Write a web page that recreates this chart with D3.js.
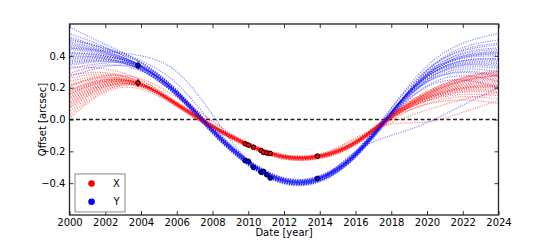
<!DOCTYPE html>
<html>
<head>
<meta charset="utf-8">
<script src="https://cdnjs.cloudflare.com/ajax/libs/d3/7.8.5/d3.min.js"></script>
<style>
  body { margin: 0; background: #fff; }
  svg text { font-family: "DejaVu Sans", sans-serif; font-size: 10px; fill: #000; }
</style>
</head>
<body>
<div id="chartDiv"></div>
<script>
// GRID OF YEARS THE ORBIT FITS ARE GIVEN ON
var fitYears = [2000, 2002, 2004, 2006, 2008, 2010, 2012, 2014, 2016, 2018, 2020, 2022, 2024];

// BEST FIT (CENTRE OF THE BUNDLE) FOR X AND Y
var xMean = [0.16, 0.24, 0.22, 0.095, -0.045, -0.16, -0.235, -0.232, -0.145, 0.02, 0.15, 0.225, 0.25];
var yMean = [0.42, 0.40, 0.33, 0.165, -0.07, -0.27, -0.385, -0.372, -0.22, 0.04, 0.27, 0.37, 0.38];

// EACH ROW = ONE SAMPLED ORBIT, GIVEN AS OFFSET FROM THE BEST FIT
var xFitOffsets = [
  [0.17, 0.077, 0.028, 0.013, 0.008, 0.008, 0.008, 0.008, 0.009, 0.015, 0.027, 0.041, 0.06],
  [0.12, 0.054, 0.009, -0.001, -0.005, -0.005, -0.005, -0.005, -0.004, 0.0, 0.013, 0.027, 0.04],
  [0.08, 0.036, 0.02, 0.012, 0.01, 0.01, 0.01, 0.01, 0.01, 0.012, 0.013, 0.014, 0.02],
  [0.05, 0.023, 0.006, 0.002, 0, 0, 0, 0, 0, 0.001, 0.004, 0.007, 0.01],
  [0.03, 0.014, -0.004, -0.007, -0.008, -0.008, -0.008, -0.008, -0.008, -0.008, -0.004, 0.0, 0.0],
  [0.01, 0.005, 0.006, 0.005, 0.005, 0.005, 0.005, 0.005, 0.005, 0.004, -0.001, -0.007, -0.01],
  [-0.01, -0.005, -0.011, -0.01, -0.01, -0.01, -0.01, -0.01, -0.01, -0.012, -0.013, -0.014, -0.02],
  [-0.03, -0.014, 0.008, 0.011, 0.012, 0.012, 0.012, 0.012, 0.011, 0.008, -0.005, -0.02, -0.03],
  [-0.05, -0.023, -0.003, 0.002, 0.003, 0.003, 0.003, 0.003, 0.002, -0.002, -0.014, -0.027, -0.04],
  [-0.07, -0.032, -0.014, -0.008, -0.006, -0.006, -0.006, -0.006, -0.007, -0.012, -0.022, -0.034, -0.05],
  [-0.09, -0.041, -0.004, 0.004, 0.007, 0.007, 0.007, 0.007, 0.006, 0.0, -0.019, -0.041, -0.06],
  [-0.11, -0.05, -0.017, -0.007, -0.004, -0.004, -0.004, -0.004, -0.006, -0.014, -0.032, -0.054, -0.08],
  [-0.13, -0.059, -0.007, 0.005, 0.009, 0.009, 0.009, 0.009, 0.007, -0.003, -0.034, -0.068, -0.1],
  [-0.15, -0.068, -0.029, -0.016, -0.011, -0.011, -0.011, -0.011, -0.013, -0.025, -0.051, -0.082, -0.12],
  [0, 0, 0, 0, 0, 0, 0, 0, 0.001, 0.004, 0.011, 0.02, 0.03],
  [-0.04, -0.018, -0.001, 0.003, 0.004, 0.004, 0.004, 0.004, 0.001, -0.014, -0.055, -0.102, -0.15],
  [0.06, 0.027, 0.005, 0.0, -0.002, -0.002, -0.002, -0.002, -0.003, -0.01, -0.028, -0.048, -0.07],
  [-0.02, -0.009, 0.004, 0.005, 0.006, 0.006, 0.006, 0.006, 0.007, 0.012, 0.022, 0.034, 0.05],
  [0.02, 0.01, 0.0, 0.0, 0.0, 0.0, 0.005, 0.012, 0.03, -0.05, -0.165, -0.18, -0.13],
  [0.05, 0.035, 0.035, 0.045, 0.035, 0.006, 0, 0, 0, 0, 0.01, 0.02, 0.03],
  [0.0, 0.0, 0.0, 0.0, 0.0, 0.0, 0.0, 0.005, 0.02, -0.04, -0.09, -0.1, -0.08],
  [0.1, 0.045, 0.012, 0.004, 0.002, 0.002, 0.002, 0.002, 0.003, 0.006, 0.02, 0.035, 0.05],
  [-0.06, -0.027, -0.008, -0.003, -0.002, -0.002, -0.002, -0.002, -0.002, -0.006, -0.018, -0.03, -0.045],
  [0.02, 0.01, 0.002, -0.013, -0.014, -0.014, -0.014, -0.014, -0.014, -0.012, 0.0, 0.015, 0.025],
  [-0.08, -0.036, -0.008, 0.014, 0.015, 0.015, 0.015, 0.015, 0.015, 0.01, -0.01, -0.025, -0.035]
];
var yFitOffsets = [
  [0.16, 0.072, 0.029, 0.015, 0.01, 0.01, 0.01, 0.01, 0.013, 0.029, 0.066, 0.109, 0.16],
  [0.12, 0.054, 0.002, -0.008, -0.012, -0.012, -0.012, -0.012, -0.01, 0.002, 0.04, 0.082, 0.12],
  [0.09, 0.041, 0.029, 0.021, 0.018, 0.018, 0.018, 0.018, 0.02, 0.029, 0.043, 0.061, 0.09],
  [0.06, 0.027, 0.007, 0.002, 0, 0, 0, 0, 0.001, 0.007, 0.023, 0.041, 0.06],
  [0.04, 0.018, -0.015, -0.019, -0.02, -0.02, -0.02, -0.02, -0.019, -0.015, 0.005, 0.027, 0.04],
  [0.02, 0.009, 0.008, 0.007, 0.006, 0.006, 0.006, 0.006, 0.006, 0.008, 0.011, 0.014, 0.02],
  [0, 0, -0.006, -0.006, -0.006, -0.006, -0.006, -0.006, -0.006, -0.006, -0.003, 0, 0],
  [-0.02, -0.009, 0.012, 0.013, 0.014, 0.014, 0.014, 0.014, 0.014, 0.012, 0.0, -0.014, -0.02],
  [-0.04, -0.018, -0.021, -0.017, -0.016, -0.016, -0.016, -0.016, -0.017, -0.021, -0.023, -0.027, -0.04],
  [-0.06, -0.027, -0.003, 0.002, 0.004, 0.004, 0.004, 0.004, 0.003, -0.003, -0.021, -0.041, -0.06],
  [-0.08, -0.036, -0.013, -0.005, -0.003, -0.003, -0.003, -0.003, -0.005, -0.013, -0.032, -0.054, -0.08],
  [-0.1, -0.045, 0.008, 0.017, 0.02, 0.02, 0.02, 0.02, 0.018, 0.007, -0.032, -0.075, -0.11],
  [-0.13, -0.059, -0.026, -0.014, -0.01, -0.01, -0.01, -0.01, -0.013, -0.027, -0.058, -0.095, -0.14],
  [-0.15, -0.068, -0.01, 0.004, 0.008, 0.008, 0.008, 0.008, 0.004, -0.014, -0.064, -0.122, -0.18],
  [0.05, 0.023, 0.008, 0.004, 0.002, 0.002, 0.002, 0.002, 0.0, -0.01, -0.037, -0.068, -0.1],
  [-0.07, -0.032, -0.016, -0.01, -0.008, -0.008, -0.008, -0.008, -0.006, 0.004, 0.034, 0.068, 0.1],
  [0.1, 0.045, 0.024, 0.015, 0.012, 0.012, 0.012, 0.012, 0.011, 0.008, -0.005, -0.02, -0.03],
  [-0.03, -0.014, -0.018, -0.015, -0.014, -0.014, -0.014, -0.014, -0.013, -0.006, 0.02, 0.048, 0.07],
  [0, 0, 0, 0, 0, 0, 0, 0.0, 0.02, -0.14, -0.29, -0.28, -0.18],
  [0.03, 0.03, 0.07, 0.135, 0.1, 0.01, 0, 0, 0, 0, 0, 0.0, 0.0],
  [0.08, 0.05, 0.04, 0.06, 0.04, 0.004, 0, 0, 0, 0, 0.01, 0.02, 0.04],
  [0.03, 0.014, 0.004, 0.001, 0.0, 0.0, 0.0, 0.0, 0.001, 0.004, 0.012, 0.02, 0.03],
  [-0.01, -0.005, 0.003, 0.005, 0.006, 0.006, 0.006, 0.006, 0.006, 0.005, 0.0, -0.006, -0.01],
  [0.07, 0.032, 0.0, -0.009, -0.01, -0.01, -0.01, -0.01, -0.01, -0.004, 0.015, 0.03, 0.05],
  [-0.05, -0.022, -0.005, 0.008, 0.01, 0.01, 0.01, 0.01, 0.009, 0.004, -0.015, -0.03, -0.05]
];

// MEASURED POSITIONS
var obsYears = [2003.83, 2009.83, 2010.01, 2010.29, 2010.72, 2010.85, 2011.04, 2011.23, 2013.87];
var obsX = [0.23, -0.153, -0.161, -0.174, -0.195, -0.207, -0.211, -0.213, -0.230];
var obsY = [0.34, -0.259, -0.262, -0.301, -0.332, -0.326, -0.347, -0.368, -0.370];
var obsXErr = [0.025, 0.004, 0.004, 0.004, 0.004, 0.004, 0.004, 0.004, 0.004];
var obsYErr = [0.025, 0.004, 0.004, 0.004, 0.004, 0.004, 0.004, 0.004, 0.004];

var xTicks = [2000, 2002, 2004, 2006, 2008, 2010, 2012, 2014, 2016, 2018, 2020, 2022, 2024];
var yTicks = [-0.4, -0.2, 0.0, 0.2, 0.4];
var seriesNames = ['X', 'Y'];
var seriesColors = ['#ff0000', '#0000ff'];

var width = 554, height = 240;
var margin = {top: 24, right: 55.5, bottom: 25, left: 69.5};
var w = width - margin.left - margin.right;
var h = height - margin.top - margin.bottom;

var svg = d3.select('#chartDiv').append('svg')
    .attr('width', width)
    .attr('height', height);

var x = d3.scaleLinear().domain([2000, 2024]).range([0, w]);
var y = d3.scaleLinear().domain([-0.6, 0.6]).range([h, 0]);

var g = svg.append('g')
    .attr('transform', 'translate(' + margin.left + ',' + margin.top + ')');

g.append('clipPath').attr('id', 'plotClip')
  .append('rect').attr('width', w).attr('height', h);

var plot = g.append('g').attr('clip-path', 'url(#plotClip)');

// DASHED ZERO LINE
plot.append('line')
    .attr('x1', 0).attr('x2', w)
    .attr('y1', y(0)).attr('y2', y(0))
    .attr('stroke', '#222')
    .attr('stroke-width', 1.3)
    .attr('stroke-dasharray', '4,2.5');

// SAMPLED ORBITS (DOTTED)
var line = d3.line()
    .x(function(d) { return x(d[0]); })
    .y(function(d) { return y(d[1]); })
    .curve(d3.curveNatural);

function fitPoints(mean, offs) {
  return fitYears.map(function(yr, i) { return [yr, mean[i] + offs[i]]; });
}

var fits = [];
for (var k = 0; k < xFitOffsets.length; k++) {
  fits.push({s: 0, k: k, pts: fitPoints(xMean, xFitOffsets[k])});
  fits.push({s: 1, k: k, pts: fitPoints(yMean, yFitOffsets[k])});
}

plot.selectAll('path.fit')
  .data(fits)
  .enter().append('path')
    .attr('class', 'fit')
    .attr('d', function(d) { return line(d.pts); })
    .attr('fill', 'none')
    .attr('stroke', function(d) { return seriesColors[d.s]; })
    .attr('stroke-width', 1.2)
    .attr('stroke-opacity', 0.45)
    .attr('stroke-dasharray', '1.2,1.2')
    .attr('stroke-dashoffset', function(d) { return (d.k % 3) * 0.8; });

// ERROR BARS + DATA POINTS
var obs = [];
obsYears.forEach(function(yr, i) {
  obs.push({s: 0, t: yr, v: obsX[i], e: obsXErr[i]});
  obs.push({s: 1, t: yr, v: obsY[i], e: obsYErr[i]});
});

plot.selectAll('line.err')
  .data(obs)
  .enter().append('line')
    .attr('class', 'err')
    .attr('x1', function(d) { return x(d.t); })
    .attr('x2', function(d) { return x(d.t); })
    .attr('y1', function(d) { return y(d.v - d.e); })
    .attr('y2', function(d) { return y(d.v + d.e); })
    .attr('stroke', '#000')
    .attr('stroke-width', 1);

plot.selectAll('circle.obs')
  .data(obs)
  .enter().append('circle')
    .attr('class', 'obs')
    .attr('cx', function(d) { return x(d.t); })
    .attr('cy', function(d) { return y(d.v); })
    .attr('r', 2.3)
    .attr('fill', function(d) { return seriesColors[d.s]; })
    .attr('stroke', '#000')
    .attr('stroke-width', 1);

// AXES - TICKS POINT INWARD ON ALL FOUR SIDES
var fmtY = function(d) { return d3.format('.1f')(d).replace('-', '\u2212'); };

g.append('g')
    .attr('transform', 'translate(0,' + h + ')')
    .call(d3.axisBottom(x).tickValues(xTicks).tickFormat(d3.format('d')).tickSize(-4).tickPadding(4));
g.append('g')
    .call(d3.axisTop(x).tickValues(xTicks).tickFormat('').tickSize(-4));
g.append('g')
    .call(d3.axisLeft(y).tickValues(yTicks).tickFormat(fmtY).tickSize(-4).tickPadding(4));
g.append('g')
    .attr('transform', 'translate(' + w + ',0)')
    .call(d3.axisRight(y).tickValues(yTicks).tickFormat('').tickSize(-4));

g.selectAll('.domain').remove();
g.selectAll('.tick line').attr('stroke', '#000').attr('stroke-width', 0.8);
g.selectAll('.tick text').attr('font-size', 10).attr('font-family', '"DejaVu Sans", sans-serif');

// FRAME
g.append('rect')
    .attr('width', w).attr('height', h)
    .attr('fill', 'none')
    .attr('stroke', '#222')
    .attr('stroke-width', 1.3);

// AXIS LABELS
g.append('text')
    .attr('x', w / 2)
    .attr('y', h + 21)
    .attr('text-anchor', 'middle')
    .text('Date [year]');

g.append('text')
    .attr('transform', 'translate(' + (-24) + ',' + (h / 2) + ') rotate(-90)')
    .attr('text-anchor', 'middle')
    .text('Offset [arcsec]');

// LEGEND
var legend = g.append('g')
    .attr('transform', 'translate(' + x(2000.31) + ',' + y(-0.342) + ')');
legend.append('rect')
    .attr('width', 50).attr('height', 38)
    .attr('fill', '#fff')
    .attr('stroke', '#888')
    .attr('stroke-width', 1);
legend.selectAll('circle')
  .data(seriesNames)
  .enter().append('circle')
    .attr('cx', 16.5)
    .attr('cy', function(d, i) { return 9.5 + i * 18.3; })
    .attr('r', 3.3)
    .attr('fill', function(d, i) { return seriesColors[i]; });
legend.selectAll('text')
  .data(seriesNames)
  .enter().append('text')
    .attr('x', 41.5)
    .attr('y', function(d, i) { return 9.5 + i * 18.3; })
    .attr('dy', '0.36em')
    .attr('text-anchor', 'middle')
    .attr('font-size', 11)
    .text(function(d) { return d; });
</script>
</body>
</html>
